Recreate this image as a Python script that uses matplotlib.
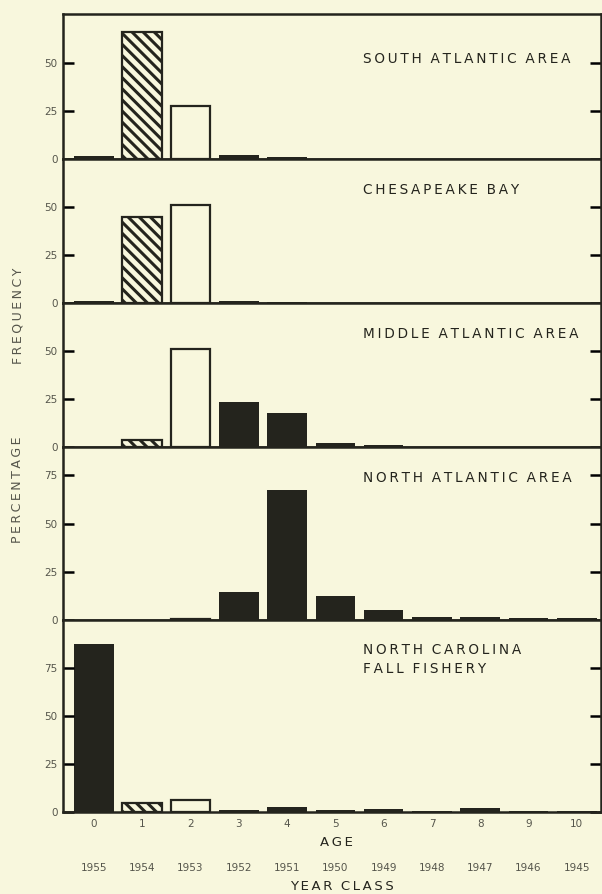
import matplotlib
matplotlib.use('Agg')
import matplotlib.pyplot as plt
from matplotlib.transforms import blended_transform_factory

# ages and the year class each age belongs to
ages = [0, 1, 2, 3, 4, 5, 6, 7, 8, 9, 10]
age_labels = ['0', '1', '2', '3', '4', '5', '6', '7', '8', '9', '10']
year_class = ['1955', '1954', '1953', '1952', '1951', '1950',
              '1949', '1948', '1947', '1946', '1945']

areas = ['SOUTH ATLANTIC AREA', 'CHESAPEAKE BAY', 'MIDDLE ATLANTIC AREA',
         'NORTH ATLANTIC AREA', 'NORTH CAROLINA\nFALL FISHERY']

# percentage frequency by age
south_atlantic = [1.5, 66, 27.5, 2, 1, 0, 0, 0, 0, 0, 0]
chesapeake = [1, 45, 51, 1, 0.5, 0, 0, 0, 0, 0, 0]
middle_atlantic = [0, 3.5, 51, 23, 17.5, 2, 1, 0, 0, 0, 0]
north_atlantic = [0, 0, 0.5, 14.5, 67.5, 12.5, 5, 1.5, 1.5, 1, 1]
north_carolina = [87.5, 4.5, 6.5, 1, 2.5, 1, 1.5, 0.5, 2, 0.5, 0.5]

panel_top = [75.5, 75, 74.5, 90, 100]
panel_ticks = [[0, 25, 50], [0, 25, 50], [0, 25, 50],
               [0, 25, 50, 75], [0, 25, 50, 75]]
title_offset = [45, 31, 31, 31, 40]   # px from panel top to title centre

BG = '#f8f7dd'
INK = '#24241d'
GREY = '#55554b'

plt.rcParams['hatch.linewidth'] = 2.2
plt.rcParams['hatch.color'] = INK


def spaced(s, sep='\u2009'):
    # poor man's letter spacing
    return '\n'.join(('  '.join(sep.join(w) for w in line.split(' ')))
                     for line in s.split('\n'))


fig = plt.figure(figsize=(6.02, 8.94), dpi=100, facecolor=BG)
gs = fig.add_gridspec(5, 1, left=63/602, right=601/602,
                      top=1 - 14/894, bottom=1 - 812/894,
                      height_ratios=panel_top, hspace=0)

series = [south_atlantic, chesapeake, middle_atlantic, north_atlantic, north_carolina]
axes = []
for i, vals in enumerate(series):
    ax = fig.add_subplot(gs[i])
    ax.set_facecolor(BG)
    for a, v in zip(ages, vals):
        if v <= 0:
            continue
        if a == 1:
            ax.bar(a, v, width=0.82, facecolor=BG, edgecolor=INK,
                   hatch='\\\\\\', linewidth=1.6)
        elif a == 2:
            ax.bar(a, v, width=0.82, facecolor=BG, edgecolor=INK, linewidth=1.6)
        else:
            ax.bar(a, v, width=0.82, color=INK, linewidth=0)
    ax.set_xlim(-0.64, 10.5)
    ax.set_ylim(0, panel_top[i])
    ax.set_yticks(panel_ticks[i])
    ax.set_yticklabels([str(t) for t in panel_ticks[i]])
    ax.tick_params(axis='y', direction='in', length=8, width=1.8,
                   right=True, labelright=False, labelsize=7.5,
                   labelcolor=GREY, pad=4)
    for sp in ax.spines.values():
        sp.set_linewidth(1.8)
        sp.set_color(INK)
    ax.set_xticks(ages)
    if i < 4:
        ax.tick_params(axis='x', length=0, labelbottom=False)
    else:
        ax.set_xticklabels(age_labels)
        ax.tick_params(axis='x', length=0, labelsize=7.5, labelcolor=GREY, pad=5)
    ax.annotate(spaced(areas[i]), xy=(0.5576, 1), xycoords='axes fraction',
                xytext=(0, -title_offset[i]), textcoords='offset pixels',
                ha='left', va='center', fontsize=9.8, color=INK,
                linespacing=1.5)
    axes.append(ax)

bottom = axes[-1]
trans = blended_transform_factory(bottom.transData, fig.transFigure)
for a, yc in zip(ages, year_class):
    bottom.text(a, 1 - 868/894, yc, transform=trans, ha='center', va='center',
                fontsize=7.5, color=GREY)

fig.text(336/602, 1 - 843/894, spaced('AGE'), ha='center', va='center',
         fontsize=9.5, color=INK)
fig.text(342/602, 1 - 887/894, spaced('YEAR CLASS'), ha='center', va='center',
         fontsize=9.5, color=INK)

fig.text(18/602, 1 - 490/894, spaced('PERCENTAGE'), rotation=90,
         ha='center', va='center', fontsize=9, color=GREY)
fig.text(18/602, 1 - 316/894, spaced('FREQUENCY'), rotation=90,
         ha='center', va='center', fontsize=9, color=GREY)

fig.savefig('out.png', dpi=100, facecolor=BG)
